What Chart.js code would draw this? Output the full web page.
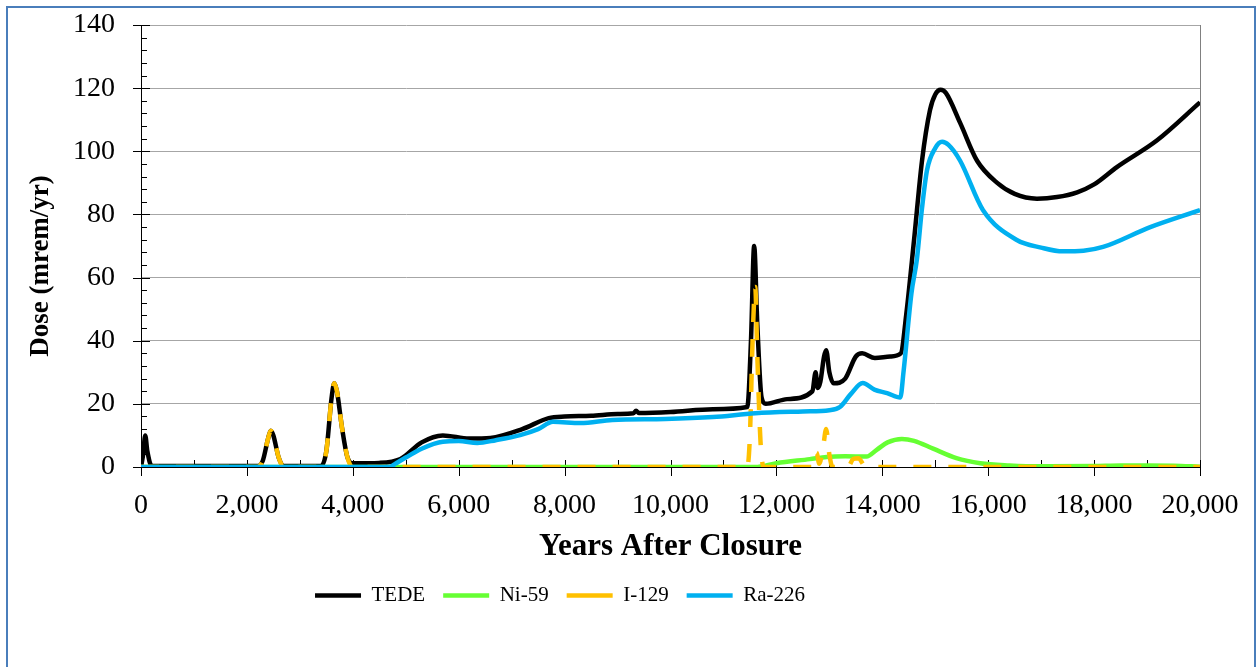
<!DOCTYPE html>
<html>
<head>
<meta charset="utf-8">
<script src="https://cdn.jsdelivr.net/npm/chart.js@4.4.0/dist/chart.umd.min.js"></script>
<style>
  html, body { margin: 0; padding: 0; background: #fff; }
  #wrap { position: relative; width: 1257px; height: 667px; overflow: hidden; }
  #frame { position: absolute; left: 6px; top: 6px; width: 1246px; height: 700px; border: 2px solid #4a7ebb; }
  #dose-chart { position: absolute; left: 0; top: 0; }
</style>
</head>
<body>
<div id="wrap">
  <div id="frame"></div>
  <canvas id="dose-chart" width="1257" height="667"></canvas>
</div>
<script>
  // TEDE
  var tedeYears = [0, 40, 80, 120, 200, 1000, 2200, 2300, 2400, 2450, 2500, 2600, 2700, 3400, 3500, 3600, 3650, 3700, 3800, 3900, 4000, 4500,
    4900, 5300, 5700, 6200, 6600, 7200, 7700, 8000, 8500, 9000, 9300, 9350, 9400, 10000, 10800, 11450, 11520, 11580, 11640, 11720, 11800,
    12200, 12680, 12740, 12780, 12830, 12900, 12940, 13000, 13080, 13300, 13500, 13620, 13860, 14150, 14350, 14450, 14600, 14750, 14900,
    15000, 15100, 15200, 15470, 15790, 16170, 16500, 16920, 17300, 17680, 18000, 18430, 19190, 20000];
  var tedeDose = [0, 4, 10, 5, 0.4, 0.3, 0.3, 2, 9, 11.5, 10, 3, 0.3, 0.3, 5, 22, 26.5, 24, 12, 3, 1.2, 1.3,
    2.5, 7.8, 10, 9, 9.2, 12, 15.5, 16, 16.2, 16.8, 17, 17.8, 17.1, 17.4, 18.3, 19, 40, 70, 45, 22, 20,
    21.5, 24, 30, 25, 27, 35, 37, 30, 26.5, 28, 35, 36, 34.5, 35, 36, 48, 72, 97, 113,
    118, 119.5, 118.5, 109, 97, 90, 86.5, 85, 85.5, 87, 89.5, 95, 103.5, 115.5];

  // Ni-59
  var niYears = [0, 11600, 12000, 12630, 12950, 13300, 13700, 13900, 14100, 14370, 14600, 14960, 15400, 15850, 16400, 17000, 18000, 18500, 19000, 19500, 20000];
  var niDose = [0, 0, 1.2, 2.5, 3.2, 3.4, 3.3, 5.5, 7.8, 8.9, 8.3, 5.8, 2.8, 1.2, 0.5, 0.2, 0.3, 0.5, 0.5, 0.4, 0.1];

  // I-129
  var iYears = [0, 2200, 2300, 2400, 2450, 2500, 2600, 2700, 3400, 3500, 3600, 3650, 3700, 3800, 3900, 4000, 11450, 11500, 11550, 11600,
    11640, 11700, 11760, 12700, 12760, 12810, 12880, 12940, 13000, 13060, 13350, 13450, 13550, 13650, 13720, 20000];
  var iDose = [0, 0, 2, 9, 11.5, 10, 3, 0, 0, 5, 22, 26.5, 24, 12, 3, 0, 0, 10, 40, 57,
    35, 8, 0, 0, 4.5, 1, 6, 12, 4, 0, 0, 2.5, 2.8, 0.6, 0, 0];

  // Ra-226
  var raYears = [0, 4700, 4800, 5000, 5300, 5700, 6000, 6350, 6700, 7160, 7500, 7780, 8300, 8900, 9900, 10800, 11600, 12500, 13000, 13200,
    13400, 13630, 13850, 14090, 14340, 14400, 14550, 14655, 14750, 14844, 15000, 15130, 15250, 15470, 15900, 16540, 17000, 17410, 17800,
    18170, 19060, 20000];
  var raDose = [0, 0, 1, 3, 5.8, 8, 8.2, 7.6, 8.5, 10.1, 12, 14.3, 13.9, 14.9, 15.2, 15.8, 17, 17.6, 18, 19,
    23, 26.6, 24.5, 23.4, 22, 30, 55, 66, 82, 94, 101, 103, 102, 97, 81.4, 71.9, 69.5, 68.3, 68.5,
    69.7, 76, 81.4];

  var seriesLabels = ['TEDE', 'Ni-59', 'I-129', 'Ra-226'];
  var seriesColors = ['#000000', '#66ff33', '#ffc000', '#00b0f0'];

  var xMax = 20000, xStep = 2000, xMinorStep = 1000;
  var yMax = 140, yStep = 20, yMinorStep = 4;
  var yTitle = 'Dose (mrem/yr)';

  var serif = "'Times New Roman', 'Liberation Serif', serif";
  var legendShift = -40;

  function toPoints(xs, ys) {
    var pts = [];
    for (var i = 0; i < xs.length; i++) {
      pts.push({ x: xs[i], y: ys[i] });
    }
    return pts;
  }

  function makeDataset(i, xs, ys, dash) {
    return {
      label: seriesLabels[i],
      data: toPoints(xs, ys),
      borderColor: seriesColors[i],
      backgroundColor: seriesColors[i],
      borderWidth: 4.5,
      borderDash: dash || [],
      pointRadius: 0,
      fill: false,
      cubicInterpolationMode: 'monotone',
      order: 4 - i
    };
  }

  // tick marks (majors cross the axis, minors inside), right frame line, y title
  var axisTicks = {
    id: 'axisTicks',
    afterLayout: function(chart) {
      // legend sits a bit left of centre in the original
      chart.legend.left += legendShift;
      chart.legend.right += legendShift;
    },
    beforeDatasetsDraw: function(chart) {
      var ctx = chart.ctx, xs = chart.scales.x, ys = chart.scales.y, area = chart.chartArea;
      ctx.save();
      ctx.lineWidth = 1;
      ctx.strokeStyle = '#808080';
      ctx.beginPath();
      ctx.moveTo(Math.round(area.right) + 0.5, area.top);
      ctx.lineTo(Math.round(area.right) + 0.5, area.bottom);
      ctx.stroke();

      ctx.strokeStyle = '#000';
      ctx.beginPath();
      for (var v = 0; v <= yMax; v += yMinorStep) {
        var py = Math.round(ys.getPixelForValue(v)) + 0.5;
        if (v % yStep === 0) {
          ctx.moveTo(area.left - 8, py); ctx.lineTo(area.left + 9, py);
        } else {
          ctx.moveTo(area.left, py); ctx.lineTo(area.left + 6, py);
        }
      }
      for (var t = 0; t <= xMax; t += xMinorStep) {
        var px = Math.round(xs.getPixelForValue(t)) + 0.5;
        if (t % xStep === 0) {
          ctx.moveTo(px, area.bottom - 7); ctx.lineTo(px, area.bottom + 9);
        } else {
          ctx.moveTo(px, area.bottom - 7); ctx.lineTo(px, area.bottom);
        }
      }
      ctx.stroke();

      // y axis title, set a little below the middle of the plot like the original
      ctx.translate(41, (area.top + area.bottom) / 2 + 20);
      ctx.rotate(-Math.PI / 2);
      ctx.fillStyle = '#000';
      ctx.font = 'bold 27px ' + serif;
      ctx.textAlign = 'center';
      ctx.textBaseline = 'middle';
      ctx.fillText(yTitle, 0, 0);
      ctx.restore();
    }
  };

  var ctx = document.getElementById('dose-chart').getContext('2d');
  var doseChart = new Chart(ctx, {
    type: 'line',
    data: {
      datasets: [
        makeDataset(0, tedeYears, tedeDose),
        makeDataset(1, niYears, niDose),
        makeDataset(2, iYears, iDose, [18, 17]),
        makeDataset(3, raYears, raDose)
      ]
    },
    options: {
      responsive: false,
      animation: false,
      events: [],
      layout: { padding: { left: 0, right: 57, top: 25, bottom: 51 } },
      plugins: {
        tooltip: { enabled: false },
        legend: {
          display: true,
          position: 'bottom',
          labels: {
            usePointStyle: true,
            pointStyle: 'line',
            pointStyleWidth: 46,
            boxHeight: 21,
            padding: 18,
            color: '#000',
            font: { family: serif, size: 21 },
            sort: function(a, b) { return a.datasetIndex - b.datasetIndex; }
          }
        }
      },
      scales: {
        x: {
          type: 'linear',
          min: 0,
          max: xMax,
          afterFit: function(scale) { scale.height = 100; },
          grid: { display: false, drawTicks: true, tickLength: 20, tickColor: 'rgba(0,0,0,0)' },
          border: { display: true, color: '#000', width: 1 },
          ticks: {
            stepSize: xStep,
            padding: 2,
            color: '#000',
            font: { family: serif, size: 28 },
            maxRotation: 0,
            callback: function(v) { return Number(v).toLocaleString('en-US'); }
          },
          title: {
            display: true,
            text: 'Years After Closure',
            color: '#000',
            padding: { top: 0, bottom: 1 },
            font: { family: serif, size: 31, weight: 'bold' }
          }
        },
        y: {
          min: 0,
          max: yMax,
          afterFit: function(scale) { scale.width = 141; },
          grid: { color: '#a6a6a6', lineWidth: 1, drawTicks: true, tickLength: 24, tickColor: 'rgba(0,0,0,0)' },
          border: { display: true, color: '#000', width: 1 },
          ticks: {
            stepSize: yStep,
            padding: 2,
            color: '#000',
            font: { family: serif, size: 28 }
          },
          title: { display: false }
        }
      }
    },
    plugins: [axisTicks]
  });
</script>
</body>
</html>
